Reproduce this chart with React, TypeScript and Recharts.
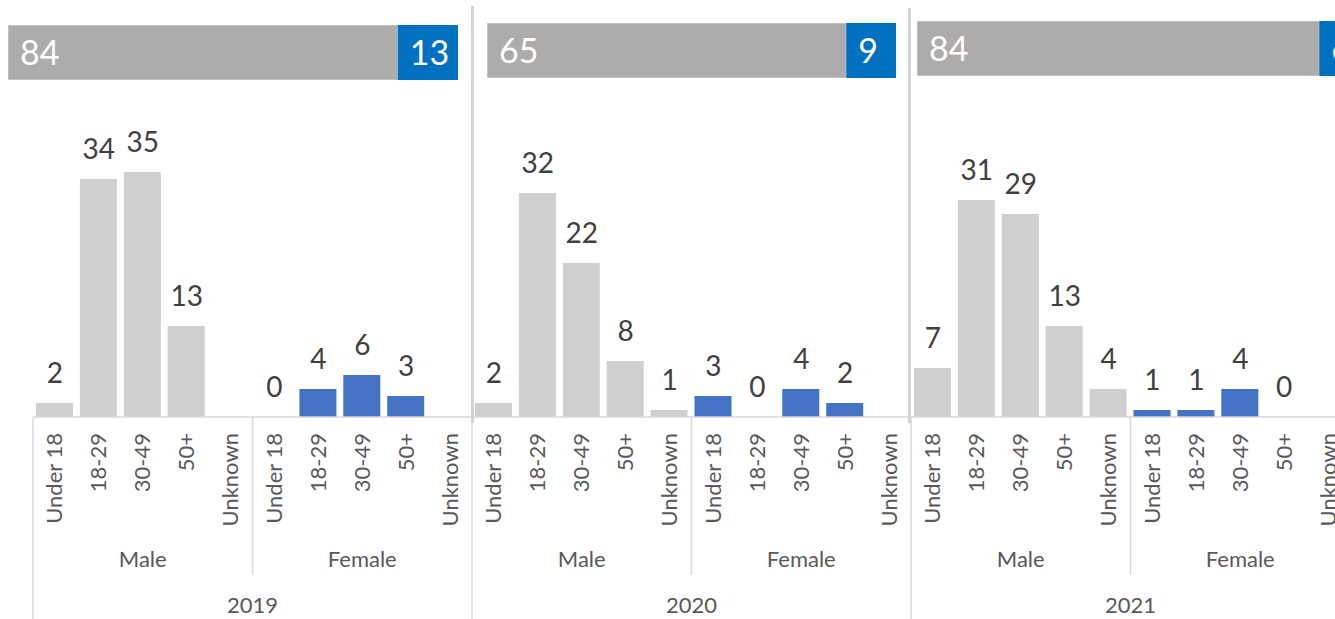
import React from 'react';
import { ComposedChart, BarChart, Bar, Line, XAxis, YAxis, Cell, LabelList } from 'recharts';

const years = ['2019', '2020', '2021'];
const genders = ['Male', 'Female'];
const ageGroups = ['Under 18', '18-29', '30-49', '50+', 'Unknown'];

const male2019 = [2, 34, 35, 13, null];
const female2019 = [0, 4, 6, 3, null];
const male2020 = [2, 32, 22, 8, 1];
const female2020 = [3, 0, 4, 2, null];
const male2021 = [7, 31, 29, 13, 4];
const female2021 = [1, 1, 4, 0, null];

const maleTotals = [84, 65, 84];
const femaleTotals = [13, 9, 6];

const seriesByYear: (number | null)[][][] = [
  [male2019, female2019],
  [male2020, female2020],
  [male2021, female2021],
];

type Row = { key: string; year: string; gender: string; age: string; value: number | null };
const data: Row[] = [];
years.forEach((year, yi) => {
  genders.forEach((gender, gi) => {
    ageGroups.forEach((age, ai) => {
      data.push({ key: `${year}|${gender}|${age}`, year, gender, age, value: seriesByYear[yi][gi][ai] });
    });
  });
});

const FONT = 'Lato, "Open Sans", "DejaVu Sans", sans-serif';
const GRAY_BAR = '#D0CECE';
const BLUE_BAR = '#4472C4';
const GRAY_TOP = '#AEABAB';
const BLUE_TOP = '#0070C0';
const LINE = '#D9D9D9';
const AXIS_TEXT = '#595959';

const CHART_W = 1360;
const CHART_H = 619;
const MARGIN = { top: 172, right: 10, bottom: 0, left: 33 };
const PLOT_W = CHART_W - MARGIN.left - MARGIN.right;
const BAND = PLOT_W / data.length;

function CategoryTick(props: any) {
  const { x, y } = props;
  const i: number = props.index ?? props.payload?.index ?? 0;
  const row = data[i];
  if (!row) return null;
  const pos = i % ageGroups.length;
  const gpos = i % (ageGroups.length * genders.length);
  const left = x - BAND / 2;
  const tx = x + 7.5;
  const ty = y + 16;
  return (
    <g>
      <text
        x={tx}
        y={ty}
        transform={`rotate(-90 ${tx} ${ty})`}
        textAnchor="end"
        fill={AXIS_TEXT}
        fontSize={22}
        fontFamily={FONT}
      >
        {row.age}
      </text>
      {pos === 0 && (
        <line x1={left} x2={left} y1={y} y2={y + (gpos === 0 ? 215 : 158)} stroke={LINE} strokeWidth={1.5} />
      )}
      {pos === 2 && (
        <text x={x} y={y + 150} textAnchor="middle" fill={AXIS_TEXT} fontSize={22} fontFamily={FONT}>
          {row.gender}
        </text>
      )}
      {gpos === 4 && (
        <text x={x + BAND / 2} y={y + 196} textAnchor="middle" fill={AXIS_TEXT} fontSize={22} fontFamily={FONT}>
          {row.year}
        </text>
      )}
    </g>
  );
}

function ValueLabel(props: any) {
  const { x, y, value } = props;
  if (value === null || value === undefined || x == null || y == null) return null;
  return (
    <text x={x} y={y - 20} textAnchor="middle" fill="#404040" fontSize={28} fontFamily={FONT}>
      {value}
    </text>
  );
}

const topLayout = [
  { left: 8, top: 25, width: 450, height: 55 },
  { left: 487, top: 23, width: 409, height: 55 },
  { left: 917, top: 21, width: 431, height: 55 },
];

const separators = [
  { left: 471, top: 6 },
  { left: 908, top: 8 },
];

function TopLabel(props: any) {
  const { x, y, height, value } = props;
  return (
    <text x={x + 12} y={y + height / 2 + 12} textAnchor="start" fill="#FFFFFF" fontSize={34} fontFamily={FONT}>
      {value}
    </text>
  );
}

export default function App() {
  return (
    <div
      style={{
        position: 'fixed',
        left: 0,
        top: 0,
        width: 1335,
        height: 619,
        overflow: 'hidden',
        background: '#FFFFFF',
        fontFamily: FONT,
      }}
    >
      <div style={{ position: 'absolute', left: 0, top: 0 }}>
        <ComposedChart width={CHART_W} height={CHART_H} data={data} margin={MARGIN}>
          <XAxis
            dataKey="key"
            interval={0}
            tickLine={false}
            tickSize={0}
            tickMargin={0}
            height={202}
            axisLine={{ stroke: LINE, strokeWidth: 1.5 }}
            tick={<CategoryTick />}
          />
          <YAxis hide domain={[0, 35]} />
          <Bar dataKey="value" barSize={37} isAnimationActive={false}>
            {data.map((d) => (
              <Cell key={d.key} fill={d.gender === 'Male' ? GRAY_BAR : BLUE_BAR} />
            ))}
          </Bar>
          <Line
            dataKey="value"
            stroke="none"
            dot={false}
            activeDot={false}
            connectNulls={false}
            isAnimationActive={false}
            label={<ValueLabel />}
          />
        </ComposedChart>
      </div>
      {years.map((year, yi) => {
        const L = topLayout[yi];
        const row = [{ year, male: maleTotals[yi], female: femaleTotals[yi] }];
        return (
          <div key={year} style={{ position: 'absolute', left: L.left, top: L.top }}>
            <BarChart
              width={L.width}
              height={L.height}
              data={row}
              layout="vertical"
              margin={{ top: 0, right: 0, bottom: 0, left: 0 }}
              barCategoryGap={0}
            >
              <XAxis type="number" hide domain={[0, maleTotals[yi] + femaleTotals[yi]]} />
              <YAxis type="category" dataKey="year" hide />
              <Bar dataKey="male" stackId="t" fill={GRAY_TOP} stroke="#D6D6D6" strokeWidth={1} isAnimationActive={false}>
                <LabelList dataKey="male" content={<TopLabel />} />
              </Bar>
              <Bar dataKey="female" stackId="t" fill={BLUE_TOP} isAnimationActive={false}>
                <LabelList dataKey="female" content={<TopLabel />} />
              </Bar>
            </BarChart>
          </div>
        );
      })}
      {separators.map((s, i) => (
        <div
          key={i}
          style={{ position: 'absolute', left: s.left, top: s.top, width: 3, height: 423 - s.top, background: '#D3D3D3' }}
        />
      ))}
    </div>
  );
}
